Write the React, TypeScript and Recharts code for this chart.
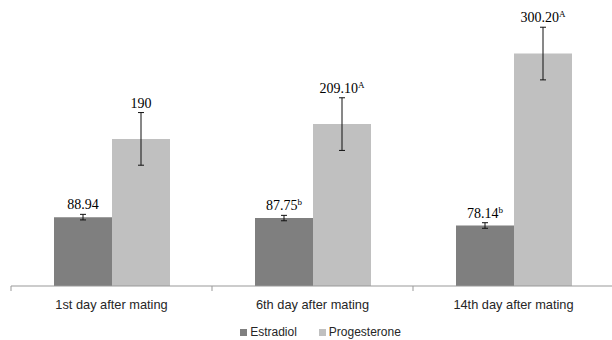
import React from "react";
import {
  BarChart,
  Bar,
  XAxis,
  YAxis,
  ErrorBar,
  LabelList,
  Legend,
} from "recharts";

// chart data
const categories = ["1st day after mating", "6th day after mating", "14th day after mating"];
const estradiol = [88.94, 87.75, 78.14];
const estradiolErr = [3.6, 3.5, 3.6];
const estradiolSup = ["", "b", "b"];
const progesterone = [190, 209.1, 300.2];
const progesteroneErr = [34, 34, 34];
const progesteroneSup = ["", "A", "A"];
const estradiolText = ["88.94", "87.75", "78.14"];
const progesteroneText = ["190", "209.10", "300.20"];

const data = categories.map((name, i) => ({
  name,
  estradiol: estradiol[i],
  eErr: estradiolErr[i],
  progesterone: progesterone[i],
  pErr: progesteroneErr[i],
}));

const sansFont = '"Liberation Sans", Arial, sans-serif';
const serifFont = '"Liberation Serif", "Times New Roman", serif';

// value label sitting just above the error bar
const makeLabel = (texts: string[], sups: string[], errs: number[]) => (props: any) => {
  const { x, y, width, height, value, index } = props;
  const pxPerUnit = height / value;
  const top = y - errs[index] * pxPerUnit - 5;
  return (
    <text
      x={x + width / 2}
      y={top}
      textAnchor="middle"
      fontFamily={serifFont}
      fontSize={14}
      fill="#000"
    >
      {texts[index]}
      {sups[index] && (
        <tspan fontSize={9} dy={-5}>
          {sups[index]}
        </tspan>
      )}
    </text>
  );
};

const CategoryTick = (props: any) => {
  const { x, y, payload, index, visibleTicksCount, width } = props;
  const band = payload && payload.offset ? payload.offset * 2 : width / visibleTicksCount;
  const left = x - band / 2;
  return (
    <g>
      <line x1={left} y1={y} x2={left} y2={y + 5} stroke="#999" />
      {index === visibleTicksCount - 1 && (
        <line x1={x + band / 2} y1={y} x2={x + band / 2} y2={y + 5} stroke="#999" />
      )}
      <text
        x={x}
        y={y + 23}
        textAnchor="middle"
        fontFamily={sansFont}
        fontSize={12.8}
        fill="#262626"
      >
        {payload.value}
      </text>
    </g>
  );
};

const LegendContent = () => (
  <div
    style={{
      height: 24,
      boxSizing: "border-box",
      paddingTop: 8,
      paddingLeft: 16,
      display: "flex",
      justifyContent: "center",
      alignItems: "center",
      fontFamily: sansFont,
      fontSize: 12,
      lineHeight: "16px",
      color: "#262626",
    }}
  >
    <span style={{ display: "flex", alignItems: "center", marginRight: 22 }}>
      <span style={{ width: 7, height: 7, background: "#7f7f7f", marginRight: 3 }} />
      Estradiol
    </span>
    <span style={{ display: "flex", alignItems: "center" }}>
      <span style={{ width: 7, height: 7, background: "#c0c0c0", marginRight: 3 }} />
      Progesterone
    </span>
  </div>
);

export default function App() {
  return (
    <div
      style={{
        position: "absolute",
        left: 0,
        top: 0,
        width: 612,
        height: 340,
        overflow: "hidden",
        background: "#fff",
      }}
    >
      <BarChart
        width={614}
        height={340}
        data={data}
        margin={{ top: 15, right: 0, bottom: 0, left: 11 }}
        barGap={0}
        barSize={58}
      >
        <XAxis
          dataKey="name"
          height={30}
          axisLine={{ stroke: "#999" }}
          tickLine={false}
          tickSize={0}
          tickMargin={0}
          tick={<CategoryTick />}
          interval={0}
        />
        <YAxis hide domain={[0, 350]} />
        <Legend verticalAlign="bottom" content={<LegendContent />} />
        <Bar dataKey="estradiol" fill="#7f7f7f" isAnimationActive={false}>
          <ErrorBar dataKey="eErr" width={3} stroke="#111" strokeWidth={1} />
          <LabelList
            dataKey="estradiol"
            content={makeLabel(estradiolText, estradiolSup, estradiolErr)}
          />
        </Bar>
        <Bar dataKey="progesterone" fill="#c0c0c0" isAnimationActive={false}>
          <ErrorBar dataKey="pErr" width={3} stroke="#111" strokeWidth={1} />
          <LabelList
            dataKey="progesterone"
            content={makeLabel(progesteroneText, progesteroneSup, progesteroneErr)}
          />
        </Bar>
      </BarChart>
    </div>
  );
}
